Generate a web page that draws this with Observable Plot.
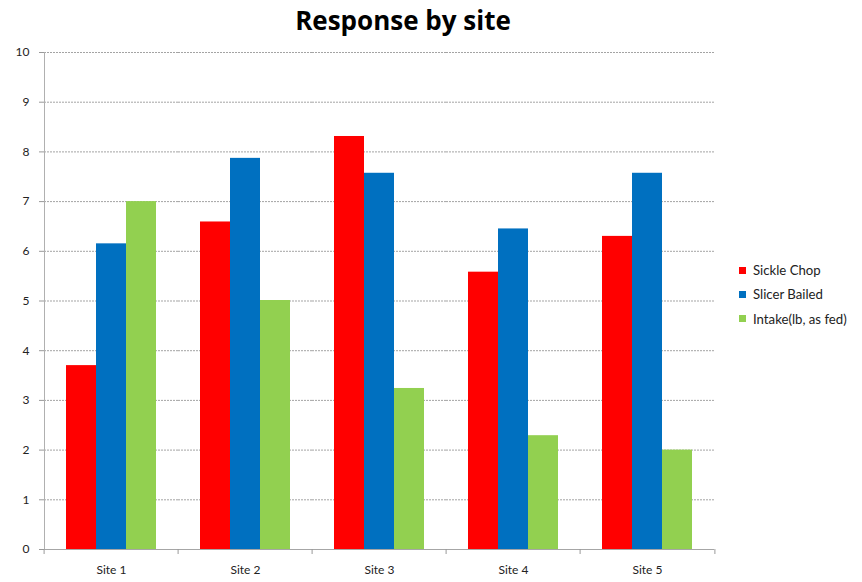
<!DOCTYPE html>
<html>
<head>
<meta charset="utf-8">
<script src="https://cdn.jsdelivr.net/npm/d3@7"></script>
<script src="https://cdn.jsdelivr.net/npm/@observablehq/plot@0.6"></script>
<style>
  body { margin: 0; background: #fff; font-family: Lato, "Open Sans", sans-serif; }
  #wrap { position: relative; width: 862px; height: 582px; }
  #title { height: 40px; text-align: center; font: bold 26px "Open Sans", sans-serif; line-height: 40px; padding-left: 90px; padding-right: 146px; box-sizing: border-box; width: 862px; }
  #legend { position: absolute; left: 739px; top: 258px; font: 13.2px Lato, sans-serif; color: #222; }
  #legend .item { display: flex; align-items: center; height: 24.3px; }
  #legend .sw { width: 7px; height: 7px; margin-right: 7px; }
</style>
</head>
<body>
<div id="wrap">
  <div id="title">Response by site</div>
  <div id="chart"></div>
  <div id="legend"></div>
</div>
<script>
const sites = ["Site 1", "Site 2", "Site 3", "Site 4", "Site 5"];
const seriesNames = ["Sickle Chop", "Slicer Bailed", "Intake(lb, as fed)"];
const seriesColors = ["#ff0000", "#0070c0", "#92d050"];
const sickleChop = [3.70, 6.59, 8.31, 5.58, 6.30];
const slicerBailed = [6.15, 7.87, 7.57, 6.45, 7.57];
const intake = [7.00, 5.01, 3.24, 2.29, 2.00];
const yTicks = [0, 1, 2, 3, 4, 5, 6, 7, 8, 9, 10];

const seriesValues = [sickleChop, slicerBailed, intake];
const data = [];
sites.forEach((s, i) => seriesNames.forEach((n, j) => data.push({site: s, series: n, value: seriesValues[j][i]})));

const W = 862, mL = 42, mR = 146;
const step = (W - mL - mR) / sites.length;

const chart = Plot.plot({
  width: W,
  height: 542,
  marginLeft: mL,
  marginRight: mR,
  marginTop: 12,
  marginBottom: 33,
  style: {fontFamily: "Lato, sans-serif", fontSize: "11px", color: "#222"},
  fx: {domain: sites, padding: 0, label: null},
  x: {domain: seriesNames, paddingInner: 0, paddingOuter: 0.7, axis: null},
  y: {domain: [0, 10], label: null},
  color: {domain: seriesNames, range: seriesColors},
  marks: [
    Plot.ruleY(yTicks.filter(d => d > 0), {stroke: "#9a9a9a", strokeDasharray: "2,1", strokeOpacity: 0.9}),
    Plot.barY(data, {fx: "site", x: "series", y: "value", fill: "series"}),
    Plot.ruleY([0], {stroke: "#a6a6a6", strokeWidth: 1.2}),
    Plot.frame({anchor: "left", facetAnchor: "left", stroke: "#b0b0b0", strokeDasharray: "2,1"}),
    Plot.axisY({ticks: yTicks, tickSize: 5, tickPadding: 10, stroke: "#999", label: null, fontSize: 12}),
    Plot.axisFx({anchor: "bottom", tickSize: 0, tickPadding: 16, label: null, fontSize: 12}),
    Plot.axisFx({anchor: "bottom", tickSize: 5, tickFormat: () => "", label: null, dx: -step / 2, stroke: "#999"}),
    Plot.axisFx({anchor: "bottom", ticks: ["Site 5"], tickSize: 5, tickFormat: () => "", label: null, dx: step / 2, stroke: "#999"})
  ]
});
document.getElementById("chart").appendChild(chart);

const legend = d3.select("#legend");
seriesNames.forEach((n, j) => {
  const it = legend.append("div").attr("class", "item");
  it.append("div").attr("class", "sw").style("background", seriesColors[j]);
  it.append("span").text(n);
});
</script>
</body>
</html>
